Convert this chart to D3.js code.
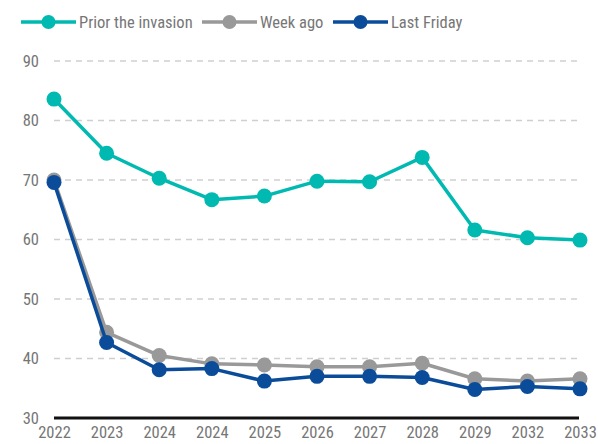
<!DOCTYPE html>
<html>
<head>
<meta charset="utf-8">
<script src="https://cdn.jsdelivr.net/npm/d3@7"></script>
<style>
  body { margin: 0; background: #fff; }
  svg text { font-family: "Liberation Sans Narrow", "Roboto Condensed", "Liberation Sans", sans-serif; }
</style>
</head>
<body>
<div id="chart"></div>
<script>
const width = 598;
const height = 444;

const years = ["2022", "2023", "2024", "2024", "2025", "2026", "2027", "2028", "2029", "2032", "2033"];
const priorInvasion = [83.6, 74.5, 70.3, 66.7, 67.3, 69.8, 69.7, 73.8, 61.6, 60.3, 59.9];
const weekAgo = [70.0, 44.4, 40.5, 39.1, 38.9, 38.6, 38.6, 39.2, 36.6, 36.2, 36.6];
const lastFriday = [69.6, 42.7, 38.1, 38.3, 36.2, 37.0, 37.0, 36.8, 34.8, 35.3, 34.9];
const yTicks = [30, 40, 50, 60, 70, 80, 90];

const series = [
    { name: "Prior the invasion", values: priorInvasion, color: "#00b9b1" },
    { name: "Week ago", values: weekAgo, color: "#999999" },
    { name: "Last Friday", values: lastFriday, color: "#0b4c9a" }
];

const svg = d3.select("#chart")
    .append("svg")
    .attr("width", width)
    .attr("height", height);

const x = d3.scalePoint()
    .domain(d3.range(years.length))
    .range([54, 580]);

const y = d3.scaleLinear()
    .domain([30, 90])
    .range([418, 61]);

// gridlines
svg.append("g")
    .selectAll("line")
    .data(yTicks.filter(d => d > 30))
    .join("line")
    .attr("x1", 54)
    .attr("x2", 580)
    .attr("y1", d => y(d))
    .attr("y2", d => y(d))
    .attr("stroke", "#cfcfcf")
    .attr("stroke-width", 1.5)
    .attr("stroke-dasharray", "6,5");

// y axis labels
const yAxis = svg.append("g")
    .attr("transform", "translate(43,0)")
    .call(d3.axisLeft(y).tickValues(yTicks).tickSize(0).tickPadding(4));
yAxis.select(".domain").remove();
yAxis.selectAll("text")
    .attr("fill", "#767676")
    .style("font-size", "16.5px");

// x axis
const xAxis = svg.append("g")
    .attr("transform", "translate(0,418)")
    .call(d3.axisBottom(x).tickFormat(i => years[i]).tickSize(0).tickPadding(8));
xAxis.select(".domain").remove();
xAxis.selectAll("text")
    .attr("fill", "#767676")
    .style("font-size", "16.5px");

svg.append("line")
    .attr("x1", 54)
    .attr("x2", 579)
    .attr("y1", 418)
    .attr("y2", 418)
    .attr("stroke", "#111")
    .attr("stroke-width", 3);

const line = d3.line()
    .x((d, i) => x(i))
    .y(d => y(d));

series.forEach(s => {
    svg.append("path")
        .datum(s.values)
        .attr("d", line)
        .attr("fill", "none")
        .attr("stroke", s.color)
        .attr("stroke-width", 3.5)
        .attr("stroke-linejoin", "round");

    svg.append("g")
        .selectAll("circle")
        .data(s.values)
        .join("circle")
        .attr("cx", (d, i) => x(i))
        .attr("cy", d => y(d))
        .attr("r", 7.5)
        .attr("fill", s.color);
});

// legend
const legendX = [21, 202, 333];
const legend = svg.append("g");
series.forEach((s, i) => {
    const g = legend.append("g").attr("transform", `translate(${legendX[i]},22)`);
    g.append("line")
        .attr("x1", 0).attr("x2", 55)
        .attr("stroke", s.color)
        .attr("stroke-width", 3.5);
    g.append("circle")
        .attr("cx", 27.5)
        .attr("r", 7)
        .attr("fill", s.color);
    g.append("text")
        .attr("x", 58)
        .attr("dy", "0.35em")
        .attr("fill", "#767676")
        .style("font-size", "16.5px")
        .text(s.name);
});
</script>
</body>
</html>
